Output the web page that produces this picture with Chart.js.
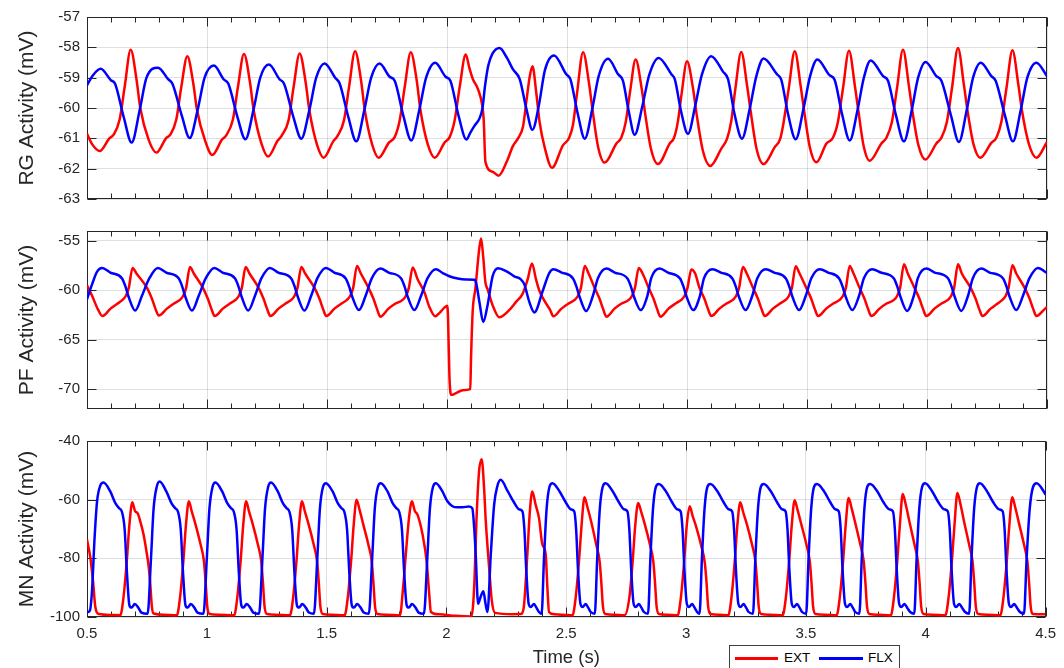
<!DOCTYPE html>
<html lang="en">
<head>
<meta charset="UTF-8">
<title>RG / PF / MN Activity</title>
<script src="https://cdn.jsdelivr.net/npm/chart.js"></script>
<style>
  html, body { margin: 0; padding: 0; background: #fff; }
  body { width: 1064px; height: 668px; overflow: hidden; position: relative;
         font-family: "Liberation Sans", Arial, Helvetica, sans-serif; }
  canvas { position: absolute; left: 0; }
  #legend { position: absolute; left: 729px; top: 645px; width: 169px; height: 30px;
            border: 1px solid #404040; background: #fff; color: #000; font-size: 13.5px; }
  #legend .sw { position: absolute; top: 11px; height: 3px; }
  #legend .tx { position: absolute; top: 4px; line-height: 16px; }
</style>
</head>
<body>
<canvas id="rg" width="1064" height="215" style="top:0"></canvas>
<canvas id="pf" width="1064" height="210" style="top:215px"></canvas>
<canvas id="mn" width="1064" height="246" style="top:425px"></canvas>
<div id="legend">
  <span class="sw" style="left:5px;width:43px;background:#ff0000"></span>
  <span class="tx" style="left:54px">EXT</span>
  <span class="sw" style="left:89px;width:44px;background:#0000ff"></span>
  <span class="tx" style="left:138px">FLX</span>
</div>
<script>
// time axis
const xTicks = [0.5, 1, 1.5, 2, 2.5, 3, 3.5, 4, 4.5];
const xTickLabels = ['0.5', '1', '1.5', '2', '2.5', '3', '3.5', '4', '4.5'];
const rgTicks = [-63, -62, -61, -60, -59, -58, -57];
const pfTicks = [-70, -65, -60, -55];
const mnTicks = [-100, -80, -60, -40];

// RG layer, [time s, mV]
const rgExt = [[0.500,-60.85],[0.522,-61.2],[0.553,-61.42],[0.593,-61.0],[0.611,-60.88],[0.636,-60.38],[0.657,-59.3],[0.682,-58.08],
  [0.707,-59.1],[0.722,-60.0],[0.757,-61.05],[0.789,-61.47],[0.829,-61.0],[0.847,-60.88],[0.872,-60.38],[0.893,-59.3],[0.918,-58.29],
  [0.943,-59.2],[0.958,-60.05],[0.993,-61.1],[1.022,-61.55],[1.062,-61.05],[1.080,-60.9],[1.108,-60.38],[1.129,-59.3],[1.154,-58.22],
  [1.179,-59.15],[1.194,-60.05],[1.226,-61.15],[1.254,-61.6],[1.294,-61.08],[1.312,-60.9],[1.340,-60.4],[1.361,-59.3],[1.386,-58.2],
  [1.411,-59.15],[1.426,-60.05],[1.458,-61.2],[1.486,-61.64],[1.526,-61.1],[1.544,-60.92],[1.571,-60.4],[1.592,-59.3],[1.617,-58.13],
  [1.642,-59.1],[1.657,-60.05],[1.688,-61.2],[1.715,-61.64],[1.758,-61.14],[1.782,-60.96],[1.803,-60.4],[1.824,-59.3],[1.849,-58.16],
  [1.874,-59.1],[1.889,-60.05],[1.920,-61.2],[1.949,-61.64],[1.990,-61.14],[2.011,-60.96],[2.032,-60.4],[2.053,-59.3],[2.078,-58.24],
  [2.094,-58.7],[2.108,-59.05],[2.129,-59.38],[2.147,-59.92],[2.153,-60.4],[2.160,-61.77],[2.190,-62.1],[2.215,-62.23],[2.250,-61.75],
  [2.275,-61.25],[2.296,-61.0],[2.317,-60.6],[2.332,-59.7],[2.345,-58.95],[2.356,-58.62],
  [2.372,-59.5],[2.386,-60.47],[2.407,-61.3],[2.4375,-61.97],[2.483,-61.23],[2.508,-61.0],[2.525,-60.55],[2.542,-59.5],[2.567,-58.16],
  [2.592,-59.2],[2.607,-60.1],[2.630,-61.3],[2.657,-61.8],[2.706,-61.17],[2.726,-60.98],[2.745,-60.45],[2.763,-59.45],[2.786,-58.4],
  [2.811,-59.35],[2.826,-60.2],[2.850,-61.35],[2.879,-61.85],[2.928,-61.17],[2.946,-60.98],[2.962,-60.45],[2.978,-59.5],[3.000,-58.46],
  [3.025,-59.35],[3.040,-60.2],[3.066,-61.4],[3.097,-61.91],[3.143,-61.34],[3.167,-61.01],[3.184,-60.45],[3.201,-59.4],[3.226,-58.15],
  [3.251,-59.3],[3.266,-60.15],[3.290,-61.35],[3.319,-61.85],[3.365,-61.3],[3.389,-61.0],[3.403,-60.45],[3.424,-59.35],[3.449,-58.13],
  [3.474,-59.3],[3.489,-60.15],[3.512,-61.3],[3.539,-61.79],[3.581,-61.17],[3.608,-60.98],[3.629,-60.45],[3.650,-59.35],[3.675,-58.11],
  [3.700,-59.3],[3.715,-60.15],[3.736,-61.25],[3.761,-61.74],[3.810,-61.17],[3.831,-60.98],[3.854,-60.45],[3.875,-59.35],[3.900,-58.08],
  [3.925,-59.3],[3.940,-60.15],[3.965,-61.25],[3.993,-61.7],[4.039,-61.17],[4.060,-60.98],[4.083,-60.45],[4.104,-59.35],[4.129,-58.02],
  [4.154,-59.25],[4.169,-60.1],[4.194,-61.2],[4.222,-61.64],[4.268,-61.15],[4.289,-60.98],[4.310,-60.45],[4.331,-59.35],[4.356,-58.1],
  [4.381,-59.25],[4.396,-60.1],[4.425,-61.2],[4.456,-61.64],[4.500,-61.12]];

const rgFlx = [[0.500,-59.25],[0.525,-58.92],[0.557,-58.71],[0.599,-59.08],[0.617,-59.2],[0.653,-60.3],[0.686,-61.14],[0.720,-60.05],[0.748,-59.0],[0.796,-58.67],
  [0.838,-59.05],[0.856,-59.2],[0.895,-60.25],[0.928,-60.99],[0.962,-60.03],[0.990,-59.0],[1.029,-58.6],
  [1.069,-59.05],[1.089,-59.2],[1.127,-60.3],[1.160,-61.03],[1.194,-60.05],[1.222,-59.0],[1.258,-58.57],
  [1.302,-59.05],[1.321,-59.2],[1.360,-60.3],[1.393,-61.01],[1.427,-60.05],[1.455,-59.0],[1.490,-58.53],
  [1.534,-59.0],[1.553,-59.2],[1.589,-60.3],[1.622,-61.1],[1.656,-60.05],[1.684,-59.0],[1.719,-58.53],
  [1.761,-58.97],[1.782,-59.1],[1.818,-60.25],[1.851,-61.07],[1.885,-60.05],[1.913,-59.0],[1.951,-58.51],
  [1.994,-58.97],[2.014,-59.1],[2.048,-60.25],[2.081,-61.04],[2.098,-60.8],[2.115,-60.58],[2.135,-60.35],[2.148,-60.0],[2.158,-59.3],
  [2.172,-58.6],[2.190,-58.2],[2.219,-58.02],
  [2.250,-58.35],[2.275,-58.73],[2.303,-59.05],[2.330,-60.0],[2.356,-60.72],[2.383,-59.9],[2.408,-58.75],[2.446,-58.27],
  [2.497,-58.89],[2.514,-59.05],[2.545,-60.2],[2.574,-61.01],[2.606,-60.0],[2.632,-58.95],[2.671,-58.38],
  [2.713,-58.89],[2.733,-59.1],[2.757,-60.1],[2.782,-60.88],[2.815,-59.9],[2.843,-58.9],[2.882,-58.35],
  [2.935,-58.89],[2.949,-59.05],[2.975,-60.1],[3.004,-60.85],[3.035,-59.9],[3.062,-58.9],[3.101,-58.29],
  [3.150,-58.8],[3.171,-59.05],[3.198,-60.2],[3.229,-61.01],[3.262,-60.0],[3.289,-58.95],[3.319,-58.37],
  [3.375,-58.89],[3.393,-59.07],[3.421,-60.2],[3.453,-61.03],[3.486,-60.0],[3.513,-58.95],[3.543,-58.4],
  [3.594,-58.92],[3.615,-59.07],[3.646,-60.2],[3.678,-61.07],[3.711,-60.05],[3.737,-59.0],[3.765,-58.43],
  [3.817,-58.95],[3.8375,-59.1],[3.871,-60.25],[3.904,-61.1],[3.937,-60.05],[3.963,-59.0],[3.994,-58.48],
  [4.039,-58.95],[4.060,-59.1],[4.100,-60.25],[4.133,-61.12],[4.166,-60.05],[4.192,-59.0],[4.224,-58.51],
  [4.268,-58.95],[4.286,-59.1],[4.325,-60.25],[4.358,-61.1],[4.391,-60.05],[4.418,-59.0],[4.456,-58.51],
  [4.500,-58.95]];

// PF layer
const pfExt = [[0.500,-59.48],[0.522,-60.6],[0.545,-61.9],[0.564,-62.6],
  [0.598,-61.85],[0.626,-61.36],[0.648,-60.97],[0.662,-60.55],[0.674,-59.75],[0.690,-57.73],
  [0.706,-58.3],[0.750,-59.75],[0.771,-60.88],[0.785,-61.85],[0.799,-62.55],
  [0.833,-61.85],[0.861,-61.36],[0.887,-60.97],[0.901,-60.55],[0.913,-59.75],[0.929,-57.63],
  [0.945,-58.3],[0.983,-59.75],[1.004,-60.88],[1.018,-61.85],[1.032,-62.6],
  [1.066,-61.85],[1.094,-61.36],[1.119,-60.97],[1.133,-60.55],[1.145,-59.75],[1.161,-57.63],
  [1.177,-58.3],[1.215,-59.75],[1.236,-60.88],[1.250,-61.85],[1.264,-62.6],
  [1.298,-61.85],[1.326,-61.36],[1.351,-60.97],[1.365,-60.55],[1.377,-59.75],[1.393,-57.63],
  [1.409,-58.3],[1.448,-59.75],[1.469,-60.88],[1.483,-61.85],[1.497,-62.6],
  [1.531,-61.85],[1.559,-61.36],[1.583,-60.97],[1.597,-60.55],[1.609,-59.75],[1.625,-57.53],
  [1.641,-58.3],[1.673,-59.75],[1.694,-60.88],[1.708,-61.85],[1.722,-62.66],
  [1.756,-61.85],[1.784,-61.36],[1.815,-60.97],[1.829,-60.55],[1.841,-59.75],[1.857,-57.7],
  [1.878,-58.9],[1.906,-60.2],[1.926,-61.65],[1.951,-62.63],[1.968,-62.3],[1.989,-61.75],[2.000,-61.56],[2.004,-62.5],
  [2.010,-68.6],[2.017,-70.57],[2.0375,-70.4],[2.065,-70.1],[2.097,-69.99],[2.100,-67.0],[2.107,-62.14],[2.118,-59.87],
  [2.135,-55.66],[2.142,-54.75],[2.151,-56.63],[2.160,-59.2],[2.169,-59.87],[2.190,-61.5],[2.218,-62.72],
  [2.260,-61.98],[2.2875,-61.17],[2.315,-60.36],[2.336,-58.9],[2.354,-57.28],
  [2.371,-58.9],[2.385,-60.04],[2.4125,-61.33],[2.429,-61.95],[2.443,-62.63],
  [2.477,-61.85],[2.505,-61.36],[2.532,-60.97],[2.546,-60.55],[2.558,-59.75],[2.574,-57.53],
  [2.590,-58.3],[2.615,-59.75],[2.636,-60.88],[2.650,-61.85],[2.664,-62.66],
  [2.698,-61.85],[2.726,-61.36],[2.757,-60.97],[2.771,-60.55],[2.783,-59.75],[2.799,-57.73],
  [2.815,-58.3],[2.840,-59.75],[2.861,-60.88],[2.875,-61.85],[2.889,-62.66],
  [2.923,-61.85],[2.951,-61.36],[2.976,-60.97],[2.990,-60.55],[3.002,-59.75],[3.018,-57.9],
  [3.034,-58.3],[3.052,-59.75],[3.073,-60.88],[3.087,-61.85],[3.101,-62.6],
  [3.135,-61.85],[3.163,-61.36],[3.191,-60.97],[3.205,-60.55],[3.217,-59.75],[3.233,-57.63],
  [3.249,-58.3],[3.275,-59.75],[3.296,-60.88],[3.310,-61.85],[3.324,-62.6],
  [3.358,-61.85],[3.386,-61.36],[3.411,-60.97],[3.425,-60.55],[3.437,-59.75],[3.453,-57.56],
  [3.469,-58.3],[3.497,-59.75],[3.518,-60.88],[3.532,-61.85],[3.546,-62.6],
  [3.580,-61.85],[3.608,-61.36],[3.636,-60.97],[3.650,-60.55],[3.662,-59.75],[3.678,-57.53],
  [3.694,-58.3],[3.719,-59.75],[3.740,-60.88],[3.754,-61.85],[3.768,-62.6],
  [3.802,-61.85],[3.830,-61.36],[3.862,-60.97],[3.876,-60.55],[3.888,-59.75],[3.904,-57.37],
  [3.920,-58.3],[3.948,-59.75],[3.969,-60.88],[3.983,-61.85],[3.997,-62.6],
  [4.031,-61.85],[4.059,-61.36],[4.087,-60.97],[4.101,-60.55],[4.113,-59.75],[4.129,-57.37],
  [4.145,-58.3],[4.182,-59.75],[4.203,-60.88],[4.217,-61.85],[4.231,-62.6],
  [4.265,-61.85],[4.293,-61.36],[4.314,-60.97],[4.328,-60.55],[4.340,-59.75],[4.356,-57.47],
  [4.372,-58.3],[4.407,-59.75],[4.428,-60.88],[4.442,-61.85],[4.456,-62.6],
  [4.490,-61.9],[4.500,-61.69]];

const pfFlx = [[0.500,-60.9],[0.521,-59.4],[0.542,-58.1],[0.5625,-57.73],
  [0.597,-58.2],[0.646,-58.8],[0.660,-59.6],[0.674,-60.7],[0.701,-62.05],[0.729,-60.55],[0.760,-58.77],[0.795,-57.73],
  [0.830,-58.2],[0.8825,-58.8],[0.8965,-59.6],[0.9105,-60.7],[0.9375,-62.05],[0.9655,-60.55],[0.995,-58.77],[1.030,-57.73],
  [1.065,-58.2],[1.117,-58.8],[1.131,-59.6],[1.145,-60.7],[1.172,-62.05],[1.200,-60.55],[1.227,-58.77],[1.262,-57.73],
  [1.297,-58.2],[1.351,-58.8],[1.365,-59.6],[1.379,-60.7],[1.406,-62.05],[1.434,-60.55],[1.460,-58.77],[1.495,-57.73],
  [1.530,-58.2],[1.578,-58.8],[1.592,-59.6],[1.606,-60.7],[1.633,-62.0],[1.661,-60.55],[1.687,-58.77],[1.722,-57.8],
  [1.757,-58.2],[1.809,-58.8],[1.823,-59.6],[1.837,-60.7],[1.864,-62.0],[1.892,-60.55],[1.919,-58.77],[1.954,-57.86],
  [1.982,-58.25],[2.010,-58.58],[2.044,-58.8],[2.079,-58.9],[2.114,-58.92],[2.121,-59.22],[2.135,-61.17],[2.151,-63.2],
  [2.169,-61.5],[2.190,-58.58],[2.213,-57.76],
  [2.246,-58.05],[2.280,-58.58],[2.308,-58.9],[2.322,-59.39],[2.343,-61.17],[2.364,-62.24],[2.399,-60.04],[2.426,-58.25],[2.443,-57.86],
  [2.478,-58.2],[2.525,-58.8],[2.539,-59.6],[2.553,-60.7],[2.580,-62.1],[2.608,-60.55],[2.629,-58.77],[2.664,-57.8],
  [2.699,-58.2],[2.752,-58.8],[2.766,-59.6],[2.780,-60.7],[2.807,-62.0],[2.835,-60.55],[2.851,-58.77],[2.886,-57.8],
  [2.921,-58.2],[2.971,-58.8],[2.985,-59.6],[2.999,-60.7],[3.026,-62.0],[3.054,-60.55],[3.071,-58.77],[3.106,-57.86],
  [3.141,-58.2],[3.189,-58.8],[3.203,-59.6],[3.217,-60.7],[3.244,-62.0],[3.272,-60.55],[3.293,-58.77],[3.328,-57.86],
  [3.363,-58.2],[3.412,-58.8],[3.426,-59.6],[3.440,-60.7],[3.467,-62.0],[3.495,-60.55],[3.518,-58.77],[3.553,-57.86],
  [3.588,-58.2],[3.634,-58.8],[3.648,-59.6],[3.662,-60.7],[3.689,-62.0],[3.717,-60.55],[3.737,-58.77],[3.772,-57.86],
  [3.807,-58.2],[3.862,-58.8],[3.876,-59.6],[3.890,-60.7],[3.917,-62.08],[3.945,-60.55],[3.962,-58.77],[3.997,-57.8],
  [4.032,-58.2],[4.088,-58.8],[4.102,-59.6],[4.116,-60.7],[4.143,-62.08],[4.171,-60.55],[4.191,-58.77],[4.226,-57.8],
  [4.261,-58.2],[4.317,-58.8],[4.331,-59.6],[4.345,-60.7],[4.372,-62.0],[4.400,-60.55],[4.427,-58.77],[4.462,-57.73],
  [4.500,-58.25]];

// MN layer
const mnExt = [[0.500,-73.6],[0.514,-79.8],[0.525,-87.7],[0.535,-96.7],[0.549,-99.0],[0.600,-99.3],[0.639,-99.4],[0.652,-93.5],[0.666,-81],[0.677,-68.5],[0.689,-60.9],
  [0.701,-64.0],[0.711,-64.6],[0.722,-67.3],[0.736,-71.9],[0.750,-78.6],[0.757,-82.6],[0.764,-88.8],[0.771,-96.7],[0.778,-98.8],[0.820,-99.2],[0.875,-99.4],[0.888,-93.5],[0.902,-81],[0.913,-68.5],[0.925,-60.56],
  [0.937,-64.0],[0.953,-68.5],[0.974,-75.3],[0.988,-81],[0.995,-88],[1.002,-96.5],[1.012,-99.0],[1.050,-99.2],[1.114,-99.4],[1.127,-93.5],[1.141,-81],[1.152,-68.5],[1.164,-60.56],
  [1.176,-64.0],[1.192,-68.5],[1.213,-75.3],[1.227,-81],[1.234,-88],[1.241,-96.5],[1.251,-99.0],[1.290,-99.2],[1.347,-99.4],[1.360,-93.5],[1.374,-81],[1.385,-68.5],[1.397,-60.56],
  [1.409,-64.0],[1.425,-68.5],[1.446,-75.3],[1.460,-81],[1.467,-88],[1.474,-96.5],[1.484,-99.0],[1.520,-99.2],[1.575,-99.4],[1.588,-93.5],[1.602,-81],[1.613,-68.5],[1.625,-60.0],
  [1.637,-63.3],[1.653,-68.5],[1.674,-75.3],[1.688,-81],[1.695,-88],[1.702,-96.5],[1.712,-99.0],[1.750,-99.2],[1.806,-99.4],[1.819,-90],[1.833,-76],[1.844,-66],[1.856,-60.56],
  [1.868,-63.9],[1.879,-65.1],[1.900,-71.8],[1.917,-80.8],[1.928,-92.1],[1.935,-98.3],[1.969,-99.1],[2.039,-99.6],[2.104,-99.8],
  [2.112,-95],[2.118,-85],[2.125,-67.3],[2.136,-50.4],[2.147,-46.2],
  [2.157,-56.1],[2.164,-67.3],[2.178,-83.1],[2.189,-94.3],[2.203,-98.6],[2.275,-99.05],[2.310,-99.0],[2.322,-97],[2.3375,-78.6],[2.348,-64],[2.358,-57.2],
  [2.372,-61.7],[2.386,-66.2],[2.400,-75.2],[2.414,-78.6],[2.421,-89.8],[2.428,-98.3],[2.450,-99.1],[2.500,-99.3],[2.526,-99.4],[2.539,-93.5],[2.553,-81],[2.564,-68.5],[2.576,-59.2],
  [2.588,-62.5],[2.604,-67.5],[2.625,-75.3],[2.639,-81],[2.646,-88],[2.653,-96.5],[2.663,-99.0],[2.700,-99.2],[2.743,-99.4],[2.763,-93.5],[2.777,-81],[2.788,-68.5],[2.800,-61.1],
  [2.812,-64.0],[2.828,-68.5],[2.849,-75.3],[2.863,-81],[2.870,-88],[2.877,-96.5],[2.887,-99.0],[2.920,-99.2],[2.965,-99.4],[2.978,-93.5],[2.992,-81],[3.003,-68.5],[3.015,-62.25],
  [3.027,-65.5],[3.043,-69.5],[3.064,-76],[3.078,-81.5],[3.085,-88],[3.092,-96.5],[3.102,-99.0],[3.140,-99.2],[3.176,-99.4],[3.189,-93.5],[3.203,-81],[3.214,-68.5],[3.226,-60.9],
  [3.238,-64.2],[3.254,-68.5],[3.275,-75.3],[3.289,-81],[3.296,-88],[3.303,-96.5],[3.313,-99.0],[3.350,-99.2],[3.403,-99.4],[3.416,-93.5],[3.430,-81],[3.441,-68.5],[3.453,-60.2],
  [3.465,-63.5],[3.481,-68.5],[3.502,-75.3],[3.516,-81],[3.523,-88],[3.530,-96.5],[3.540,-99.0],[3.580,-99.2],[3.628,-99.4],[3.641,-93.5],[3.655,-81],[3.666,-68.5],[3.678,-59.4],
  [3.690,-62.7],[3.706,-68],[3.727,-75.3],[3.741,-81],[3.748,-88],[3.755,-96.5],[3.765,-99.0],[3.800,-99.2],[3.854,-99.5],[3.867,-93.5],[3.881,-81],[3.892,-68.5],[3.904,-58.1],
  [3.916,-61.5],[3.932,-67.5],[3.953,-75.3],[3.967,-81],[3.974,-88],[3.981,-96.5],[3.991,-99.0],[4.030,-99.2],[4.082,-99.4],[4.095,-93.5],[4.109,-81],[4.120,-68.5],[4.132,-57.75],
  [4.144,-61.2],[4.160,-67.5],[4.181,-75.3],[4.195,-81],[4.202,-88],[4.209,-96.5],[4.219,-99.0],[4.260,-99.2],[4.311,-99.4],[4.324,-93.5],[4.338,-81],[4.349,-68.5],[4.361,-59.2],
  [4.373,-62.5],[4.389,-68],[4.410,-75.3],[4.424,-81],[4.431,-88],[4.438,-96.5],[4.448,-99.0],[4.480,-99.1],[4.500,-99.0]];

const mnFlx = [[0.500,-98.4],[0.512,-97.8],[0.521,-91],[0.531,-74],[0.542,-60.6],[0.556,-55.1],[0.569,-54.15],
  [0.597,-57.2],[0.619,-61.3],[0.634,-62.9],[0.646,-64.2],[0.657,-70],[0.667,-85.4],[0.677,-96.0],[0.686,-96.8],[0.699,-95.6],[0.714,-96.8],[0.727,-98.5],[0.753,-98.9],[0.767,-80],[0.778,-63],[0.791,-55.6],[0.803,-53.8],
  [0.831,-57.2],[0.853,-61.3],[0.868,-62.9],[0.880,-64.2],[0.891,-70],[0.901,-85.4],[0.911,-96.0],[0.920,-96.8],[0.933,-95.6],[0.948,-96.8],[0.961,-98.5],[0.986,-98.9],[1.000,-80],[1.011,-63],[1.024,-55.6],[1.036,-54.15],
  [1.064,-57.2],[1.086,-61.3],[1.101,-62.9],[1.113,-64.2],[1.124,-70],[1.134,-85.4],[1.144,-96.0],[1.153,-96.8],[1.166,-95.6],[1.181,-96.8],[1.194,-98.5],[1.218,-98.9],[1.232,-80],[1.243,-63],[1.256,-55.6],[1.268,-54.15],
  [1.296,-57.2],[1.318,-61.3],[1.333,-62.9],[1.345,-64.2],[1.356,-70],[1.366,-85.4],[1.376,-96.0],[1.385,-96.8],[1.398,-95.6],[1.413,-96.8],[1.426,-98.5],[1.447,-98.9],[1.461,-80],[1.472,-63],[1.485,-55.6],[1.497,-54.4],
  [1.525,-57.2],[1.547,-61.3],[1.562,-62.9],[1.574,-64.2],[1.585,-70],[1.595,-85.4],[1.605,-96.0],[1.614,-96.8],[1.627,-95.6],[1.642,-96.8],[1.655,-98.5],[1.676,-98.9],[1.690,-80],[1.701,-63],[1.714,-55.6],[1.726,-54.4],
  [1.754,-57.2],[1.776,-61.3],[1.791,-62.9],[1.803,-64.2],[1.814,-70],[1.824,-85.4],[1.834,-96.0],[1.843,-96.8],[1.856,-95.6],[1.871,-96.8],[1.884,-98.5],[1.906,-98.9],[1.920,-80],[1.931,-63],[1.944,-55.6],[1.956,-54.4],
  [1.983,-57.2],[2.004,-60.56],[2.025,-62.25],[2.045,-62.6],[2.067,-62.6],[2.094,-62.3],[2.108,-63.0],[2.116,-70],[2.122,-78.6],[2.132,-95.5],
  [2.143,-93],[2.154,-91.2],[2.163,-95.5],[2.171,-98.3],[2.185,-78.6],[2.199,-61.7],[2.212,-55.5],[2.226,-53.25],
  [2.256,-57.2],[2.281,-60.8],[2.303,-63.3],[2.317,-64.0],[2.325,-70],[2.333,-84],[2.343,-95.5],[2.352,-96.6],[2.365,-95.6],[2.376,-96.9],[2.386,-98.3],[2.397,-98.9],[2.407,-80],[2.418,-63],[2.430,-55.6],[2.442,-54.4],
  [2.472,-57.2],[2.497,-60.8],[2.519,-63.3],[2.533,-64.0],[2.541,-70],[2.549,-84],[2.559,-95.5],[2.568,-96.6],[2.581,-95.6],[2.592,-96.9],[2.602,-98.3],[2.619,-98.9],[2.629,-80],[2.640,-63],[2.652,-55.6],[2.664,-54.4],
  [2.694,-57.2],[2.719,-60.8],[2.741,-63.3],[2.755,-64.0],[2.763,-70],[2.771,-84],[2.781,-95.5],[2.790,-96.6],[2.803,-95.6],[2.814,-96.9],[2.824,-98.3],[2.841,-98.9],[2.851,-80],[2.862,-63],[2.874,-55.6],[2.886,-54.7],
  [2.916,-57.2],[2.941,-60.8],[2.963,-63.3],[2.977,-64.0],[2.985,-70],[2.993,-84],[3.003,-95.5],[3.012,-96.6],[3.025,-95.6],[3.036,-96.9],[3.046,-98.3],[3.056,-98.9],[3.066,-80],[3.077,-63],[3.089,-55.6],[3.101,-54.7],
  [3.131,-57.2],[3.156,-60.8],[3.178,-63.3],[3.192,-64.0],[3.200,-70],[3.208,-84],[3.218,-95.5],[3.227,-96.6],[3.240,-95.6],[3.251,-96.9],[3.261,-98.3],[3.279,-98.9],[3.289,-80],[3.300,-63],[3.312,-55.6],[3.324,-54.7],
  [3.354,-57.2],[3.379,-60.8],[3.401,-63.3],[3.415,-64.0],[3.423,-70],[3.431,-84],[3.441,-95.5],[3.450,-96.6],[3.463,-95.6],[3.474,-96.9],[3.484,-98.3],[3.501,-98.9],[3.511,-80],[3.522,-63],[3.534,-55.6],[3.546,-54.7],
  [3.576,-57.2],[3.601,-60.8],[3.623,-63.3],[3.637,-64.0],[3.645,-70],[3.653,-84],[3.663,-95.5],[3.672,-96.6],[3.685,-95.6],[3.696,-96.9],[3.706,-98.3],[3.723,-98.9],[3.733,-80],[3.744,-63],[3.756,-55.6],[3.768,-54.7],
  [3.798,-57.2],[3.823,-60.8],[3.848,-63.3],[3.863,-64.0],[3.871,-70],[3.879,-84],[3.889,-95.5],[3.898,-96.6],[3.911,-95.6],[3.923,-96.9],[3.935,-98.3],[3.952,-98.9],[3.962,-80],[3.973,-63],[3.985,-55.6],[3.997,-54.4],
  [4.027,-57.2],[4.052,-60.8],[4.077,-63.3],[4.092,-64.0],[4.100,-70],[4.108,-84],[4.118,-95.5],[4.127,-96.6],[4.140,-95.6],[4.152,-96.9],[4.164,-98.3],[4.181,-98.9],[4.191,-80],[4.202,-63],[4.214,-55.6],[4.226,-54.4],
  [4.256,-57.2],[4.281,-60.8],[4.306,-63.3],[4.321,-64.0],[4.329,-70],[4.337,-84],[4.347,-95.5],[4.356,-96.6],[4.369,-95.6],[4.381,-96.9],[4.393,-98.3],[4.410,-98.9],[4.421,-80],[4.434,-63],[4.448,-55.6],[4.4625,-54.4],
  [4.4925,-57.2],[4.500,-58.3]];

const FONT = '"Liberation Sans", Arial, Helvetica, sans-serif';
const INK = '#262626';
const GRID = 'rgba(38,38,38,0.15)';

// MATLAB-like box with inward ticks
const frame = {
  id: 'frame',
  beforeDatasetsDraw(chart) {
    const { ctx, chartArea: a, scales: { x, y } } = chart;
    const L = Math.round(a.left) + 0.5, R = Math.round(a.right) - 0.5;
    const T = Math.round(a.top) + 0.5, B = Math.round(a.bottom) - 0.5;
    ctx.save();
    ctx.strokeStyle = INK;
    ctx.lineWidth = 1;
    ctx.strokeRect(L, T, R - L, B - T);
    ctx.beginPath();
    for (let i = 0; i <= 40; i++) {
      const px = Math.round(x.getPixelForValue(0.5 + i / 10)) + 0.5;
      const len = i % 5 === 0 ? 9 : 5;
      ctx.moveTo(px, B); ctx.lineTo(px, B - len);
      ctx.moveTo(px, T); ctx.lineTo(px, T + len);
    }
    y.ticks.forEach(t => {
      const py = Math.round(y.getPixelForValue(t.value)) + 0.5;
      ctx.moveTo(L, py); ctx.lineTo(L + 9, py);
      ctx.moveTo(R, py); ctx.lineTo(R - 9, py);
    });
    ctx.stroke();
    ctx.restore();
  }
};

function panel(id, ext, flx, yMin, yMax, yTicks, yTitle, padTop, xHeight, showX) {
  new Chart(document.getElementById(id), {
    type: 'line',
    data: {
      datasets: [
        { label: 'EXT', data: ext.map(p => ({ x: p[0], y: p[1] })), borderColor: '#ff0000',
          borderWidth: 2.5, pointRadius: 0, fill: false, cubicInterpolationMode: 'monotone', order: 1 },
        { label: 'FLX', data: flx.map(p => ({ x: p[0], y: p[1] })), borderColor: '#0000ff',
          borderWidth: 2.5, pointRadius: 0, fill: false, cubicInterpolationMode: 'monotone', order: 0 }
      ]
    },
    options: {
      responsive: false,
      animation: false,
      events: [],
      layout: { padding: { top: padTop, right: 17, bottom: 0, left: 0 } },
      plugins: { legend: { display: false }, tooltip: { enabled: false } },
      scales: {
        x: {
          type: 'linear', min: 0.5, max: 4.5,
          afterBuildTicks: s => { s.ticks = xTicks.map(v => ({ value: v })); },
          afterFit: s => { s.height = xHeight; },
          grid: { color: GRID, drawTicks: false },
          border: { display: false },
          ticks: { display: showX, padding: 8, autoSkip: false, maxRotation: 0, color: INK,
                   font: { family: FONT, size: 15 }, callback: (v, i) => xTickLabels[i] },
          title: { display: showX, text: 'Time (s)', color: INK,
                   font: { family: FONT, size: 18.5 }, padding: { top: 0, bottom: 1.5 } }
        },
        y: {
          type: 'linear', min: yMin, max: yMax,
          afterBuildTicks: s => { s.ticks = yTicks.map(v => ({ value: v })); },
          afterFit: s => { s.width = 87; },
          grid: { color: GRID, drawTicks: false },
          border: { display: false },
          ticks: { padding: 7, color: INK, font: { family: FONT, size: 15 },
                   callback: v => String(v) },
          title: { display: true, text: yTitle, color: INK,
                   font: { family: FONT, size: 21 }, padding: { top: 15, bottom: 0 } }
        }
      }
    },
    plugins: [frame]
  });
}

panel('rg', rgExt, rgFlx, -63, -57, rgTicks, 'RG Activity (mV)', 17, 14, false);
panel('pf', pfExt, pfFlx, -72, -54, pfTicks, 'PF Activity (mV)', 13, 12, false);
panel('mn', mnExt, mnFlx, -100, -40, mnTicks, 'MN Activity (mV)', 14, 54, true);
</script>
</body>
</html>
